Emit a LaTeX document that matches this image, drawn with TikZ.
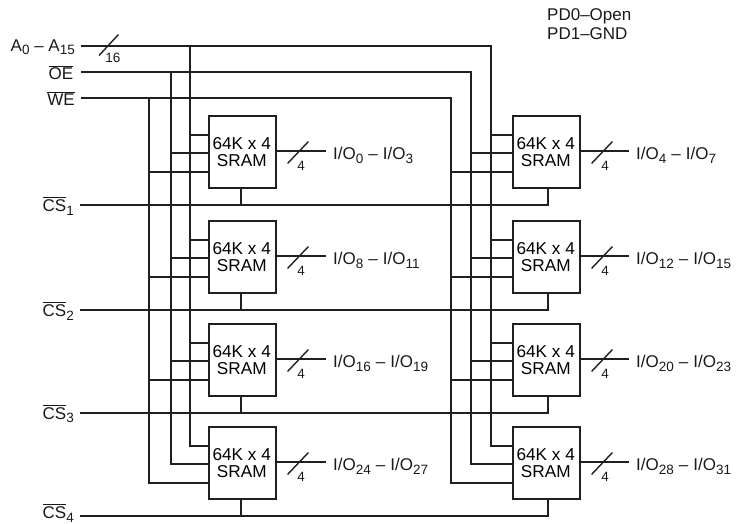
\documentclass[tikz,border=0pt]{standalone}
\usepackage{fontspec}
\setmainfont{Liberation Sans}
\newcommand{\lowidx}[1]{\raisebox{-3.4pt}{\fontsize{13.5}{13.5}\selectfont #1}}
\newcommand{\barred}[1]{$\overline{\mbox{\rule{0pt}{12.6pt}#1}}$}
\newcommand{\chiptext}{\raisebox{-2.5pt}{64K x 4\kern1.5pt}\\\raisebox{-2.5pt}{SRAM\kern1.5pt}}
\tikzset{
  x=1pt,y=-1pt,
  wire/.style={line width=1.4pt,draw=black!88,line cap=rect,line join=miter},
  chip/.style={draw=black!88,line width=1.4pt,outer sep=0pt,minimum width=67pt,minimum height=72pt,inner sep=0pt,align=center,
    font=\fontsize{17.2}{17.5}\selectfont,anchor=north west},
  lab/.style={inner sep=0pt,font=\fontsize{17}{18}\selectfont,text=black!90},
  small/.style={inner sep=0pt,font=\fontsize{13.5}{13.5}\selectfont,text=black!90}
}
\begin{document}
\begin{tikzpicture}
\useasboundingbox (0,0) rectangle (738,524);
% signal sources
\coordinate (Astart) at (82,46);
\coordinate (Ostart) at (82,72);
\coordinate (Wstart) at (82,98);
\coordinate (Aright) at (491,46);
\coordinate (Oright) at (471,72);
\coordinate (Wright) at (451,98);
\coordinate (Aleft) at (190,46);
\coordinate (Oleft) at (171,72);
\coordinate (Wleft) at (149,98);
\node[lab,anchor=east] (Alab) at (75,47.5) {A\lowidx{0} – A\lowidx{15}};
\node[lab,anchor=east] (Olab) at (73.5,72.5) {\barred{OE}};
\node[lab,anchor=east] (Wlab) at (75,98.5) {\barred{WE}};
\node[lab,anchor=north west,align=left,font=\fontsize{17}{20}\selectfont] (pd) at (547,8.5) {PD0–Open\\[-1.5pt]PD1–GND};
\draw[wire] (Astart) -- (Aright);
\draw[wire] (Ostart) -- (Oright);
\draw[wire] (Wstart) -- (Wright);
\coordinate (As1) at (99.5,55);
\coordinate (As2) at (118,35);
\draw[wire] (As1) -- (As2);
\node[small] (Abus) at (113,58) {16};
% rows
\foreach \row/\ytop/\ycs/\csdy/\cslab/\ia/\oa/\ib/\ob in {
  1/116/205/1/1/0/3/4/7,
  2/221/310/1/2/8/11/12/15,
  3/324/413/1/3/16/19/20/23,
  4/427/516/-3/4/24/27/28/31}{
  \node[chip] (L\row) at (209,\ytop) {\chiptext};
  \node[chip] (R\row) at (513,\ytop) {\chiptext};
  \node[lab,anchor=east] (CS\row) at (74,\ycs+\csdy) {\barred{CS}\lowidx{\cslab}};
  \coordinate (CSs\row) at (81,\ycs);
  \draw[wire] (CSs\row) -- (548,\ycs) -- (548,\ytop+72);
  \draw[wire] (241,\ytop+72) -- (241,\ycs);
  % outputs
  \foreach \side/\xb/\xs/\fromi/\toi in {L/325/288/\ia/\oa, R/628/592/\ib/\ob}{
    \coordinate (O\side\row) at (\xb,\ytop+35);
    \coordinate (S\side a\row) at (\xs,\ytop+47);
    \coordinate (S\side b\row) at (\xs+20,\ytop+26);
    \draw[wire] (\side\row.east |- O\side\row) -- (O\side\row);
    \draw[wire] (S\side a\row) -- (S\side b\row);
    \node[small] (F\side\row) at (\xs+13,\ytop+50) {4};
    \node[lab,anchor=west] (T\side\row) at (\xb+8,\ytop+39.5) {I/O\lowidx{\fromi}\kern5pt–\kern5pt I/O\lowidx{\toi}};
  }
  % inputs
  \foreach \side/\xa/\xo/\xw in {L/190/171/149, R/491/471/451}{
    \coordinate (Ia\side\row) at (\xa,\ytop+19);
    \coordinate (Io\side\row) at (\xo,\ytop+37);
    \coordinate (Iw\side\row) at (\xw,\ytop+56);
    \draw[wire] (Ia\side\row) -- (\side\row.west |- Ia\side\row);
    \draw[wire] (Io\side\row) -- (\side\row.west |- Io\side\row);
    \draw[wire] (Iw\side\row) -- (\side\row.west |- Iw\side\row);
  }
}
% vertical buses
\draw[wire] (Aleft) -- (IaL4);
\draw[wire] (Oleft) -- (IoL4);
\draw[wire] (Wleft) -- (IwL4);
\draw[wire] (Aright) -- (IaR4);
\draw[wire] (Oright) -- (IoR4);
\draw[wire] (Wright) -- (IwR4);
\end{tikzpicture}
\end{document}
